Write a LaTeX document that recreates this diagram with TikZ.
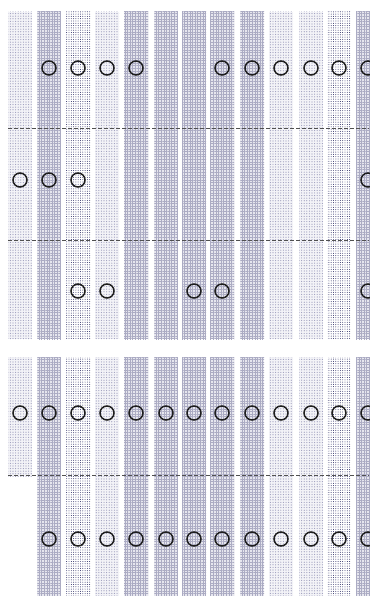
\documentclass[tikz,border=0pt]{standalone}
\usetikzlibrary{patterns.meta}
\definecolor{gridfill}{HTML}{E6E6EE}
\definecolor{gridline}{HTML}{ABABC3}
\definecolor{lightfill}{HTML}{F3F3F7}
\definecolor{lightdot}{HTML}{9C9CBC}
\definecolor{darkdot}{HTML}{2A2A62}
\definecolor{ringcol}{HTML}{1E1E1E}
\definecolor{sepcol}{HTML}{505050}
\begin{document}
\begin{tikzpicture}[x=1pt,y=-1pt,
  gridstrip/.style={fill=gridfill,
    postaction={pattern={Lines[angle=90,distance=2.6pt,line width=0.45pt]},pattern color=gridline},
    postaction={pattern={Lines[angle=0,distance=2.6pt,line width=0.45pt]},pattern color=gridline}},
  lightstrip/.style={fill=lightfill,
    postaction={pattern={Dots[distance=2.6pt,radius=0.6pt]},pattern color=lightdot}},
  darkstrip/.style={fill=white,
    postaction={pattern={Dots[distance=2.3pt,radius=0.48pt]},pattern color=darkdot}},
  ring/.style={circle,draw=ringcol,line width=1.5pt,minimum size=14pt,inner sep=0pt},
  sepline/.style={draw=sepcol,line width=0.6pt,dash pattern=on 4pt off 2pt}]
\useasboundingbox (0,0) rectangle (369,596);
% strips
\foreach \xx in {37,124,154,182,210,240,356}
  {\path[gridstrip] (\xx,12) rectangle ++(24,327);
   \path[gridstrip] (\xx,357) rectangle ++(24,239);}
\foreach \xx in {95,269,299}
  {\path[lightstrip] (\xx,12) rectangle ++(24,327);
   \path[lightstrip] (\xx,357) rectangle ++(24,239);}
\foreach \xx in {66,327}
  {\path[darkstrip] (\xx,12) rectangle ++(24,327);
   \path[darkstrip] (\xx,357) rectangle ++(24,239);}
\path[lightstrip] (8,12) rectangle ++(24,327);
\path[lightstrip] (8,357) rectangle ++(24,119);
% separators
\coordinate (s1a) at (8,128); \coordinate (s1b) at (369,128);
\coordinate (s2a) at (8,240); \coordinate (s2b) at (369,240);
\coordinate (s3a) at (8,475); \coordinate (s3b) at (369,475);
\draw[sepline] (s1a) -- (s1b);
\draw[sepline] (s2a) -- (s2b);
\draw[sepline] (s3a) -- (s3b);
% rings, top section
\foreach \cx [count=\i] in {49,78,107,136,222,252,281,311,339,368}
  \node[ring] (ra\i) at (\cx,68) {};
\foreach \cx [count=\i] in {20,49,78,368}
  \node[ring] (rb\i) at (\cx,180) {};
\foreach \cx [count=\i] in {78,107,194,222,368}
  \node[ring] (rc\i) at (\cx,291) {};
% rings, bottom section
\foreach \cx [count=\i] in {20,49,78,107,136,166,194,222,252,281,311,339,368}
  \node[ring] (rd\i) at (\cx,413) {};
\foreach \cx [count=\i] in {49,78,107,136,166,194,222,252,281,311,339,368}
  \node[ring] (re\i) at (\cx,539) {};
\end{tikzpicture}
\end{document}
